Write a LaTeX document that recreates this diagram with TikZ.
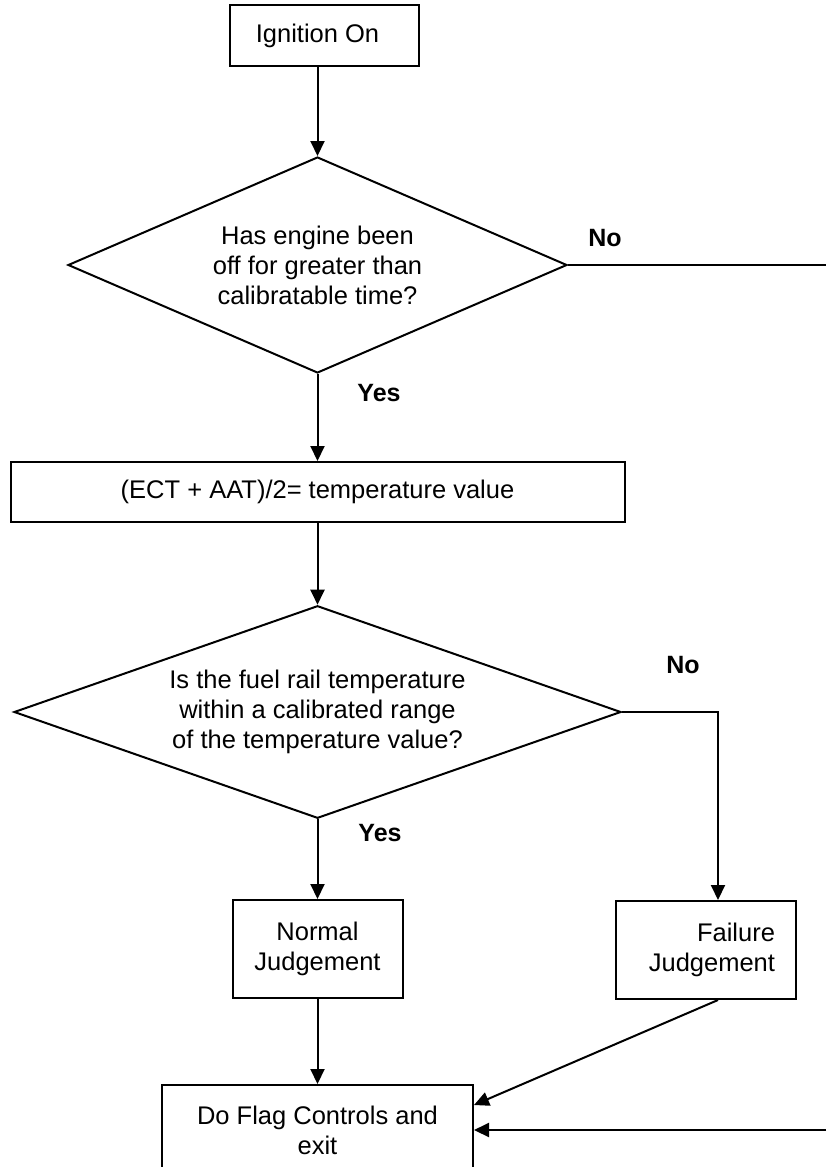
\documentclass[tikz,border=0pt]{standalone}
\usepackage{fontspec}
\setmainfont{Liberation Sans}
\usetikzlibrary{shapes.geometric,arrows.meta,calc}
\begin{document}
\begin{tikzpicture}[x=0.5pt,y=-0.5pt,
  every node/.style={font=\fontsize{12.75pt}{15pt}\selectfont},
  box/.style={draw,line width=1pt,inner sep=0pt,align=center},
  dec/.style={draw,diamond,aspect=2.3,line width=1pt,inner sep=0pt,align=center},
  lbl/.style={font=\fontsize{12.5pt}{15pt}\selectfont\bfseries,inner sep=0pt},
  conn/.style={line width=1pt},
  arr/.style={conn,-{Triangle[length=7.5pt,width=7pt]}}]
\useasboundingbox (0,0) rectangle (826,1167);
\clip (0,0) rectangle (826,1167);

\node[box,minimum width=94.5pt,minimum height=30.5pt] (ign) at (324.5,35.5) {Ignition On\kern7pt};
\node[dec,minimum width=249.5pt,minimum height=108pt] (d1) at (317.5,265)
  {Has engine been\\off for greater than\\calibratable time?};
\node[box,minimum width=307pt,minimum height=30pt] (box2) at (317.5,492) {(ECT + AAT)/2= temperature value};
\node[dec,minimum width=303.5pt,minimum height=101pt] (d2) at (317.5,712)
  {Is the fuel rail temperature\\within a calibrated range\\of the temperature value?};
\node[box,minimum width=85pt,minimum height=49pt] (normal) at (317.5,949) {Normal\\Judgement};
\node[box,text width=69pt,inner xsep=10.5pt,align=right,minimum height=49pt] (fail) at (706,950) {Failure\\Judgement};
\node[box,minimum width=155.5pt,minimum height=45pt] (flag) at (317.5,1130) {Do Flag Controls and\\exit};

\node[lbl] (no1) at (605,238) {No};
\node[lbl] (yes1) at (379,393) {Yes};
\node[lbl] (no2) at (683,665) {No};
\node[lbl] (yes2) at (380,833) {Yes};

\coordinate (noA) at (645,265);
\coordinate (noB) at (826,265);
\coordinate (c2) at (718,712);
\coordinate (ret) at (826,1130);

\draw[arr] (d1.north |- ign.south) -- (d1.north);
\draw[conn,line width=0.7pt] (d1.east) -- (noA);
\draw[conn] (noA) -- (noB);
\draw[arr] (d1.south) -- (box2.north);
\draw[arr] (box2.south) -- (d2.north);
\draw[arr] (d2.east) -- (c2) -- (c2 |- fail.north);
\draw[arr] (d2.south) -- (normal.north);
\draw[arr] (normal.south) -- (flag.north);
\draw[arr] (c2 |- fail.south) -- ($(flag.north east)+(0,21)$);
\draw[arr] (ret) -- (flag.east);
\end{tikzpicture}
\end{document}
